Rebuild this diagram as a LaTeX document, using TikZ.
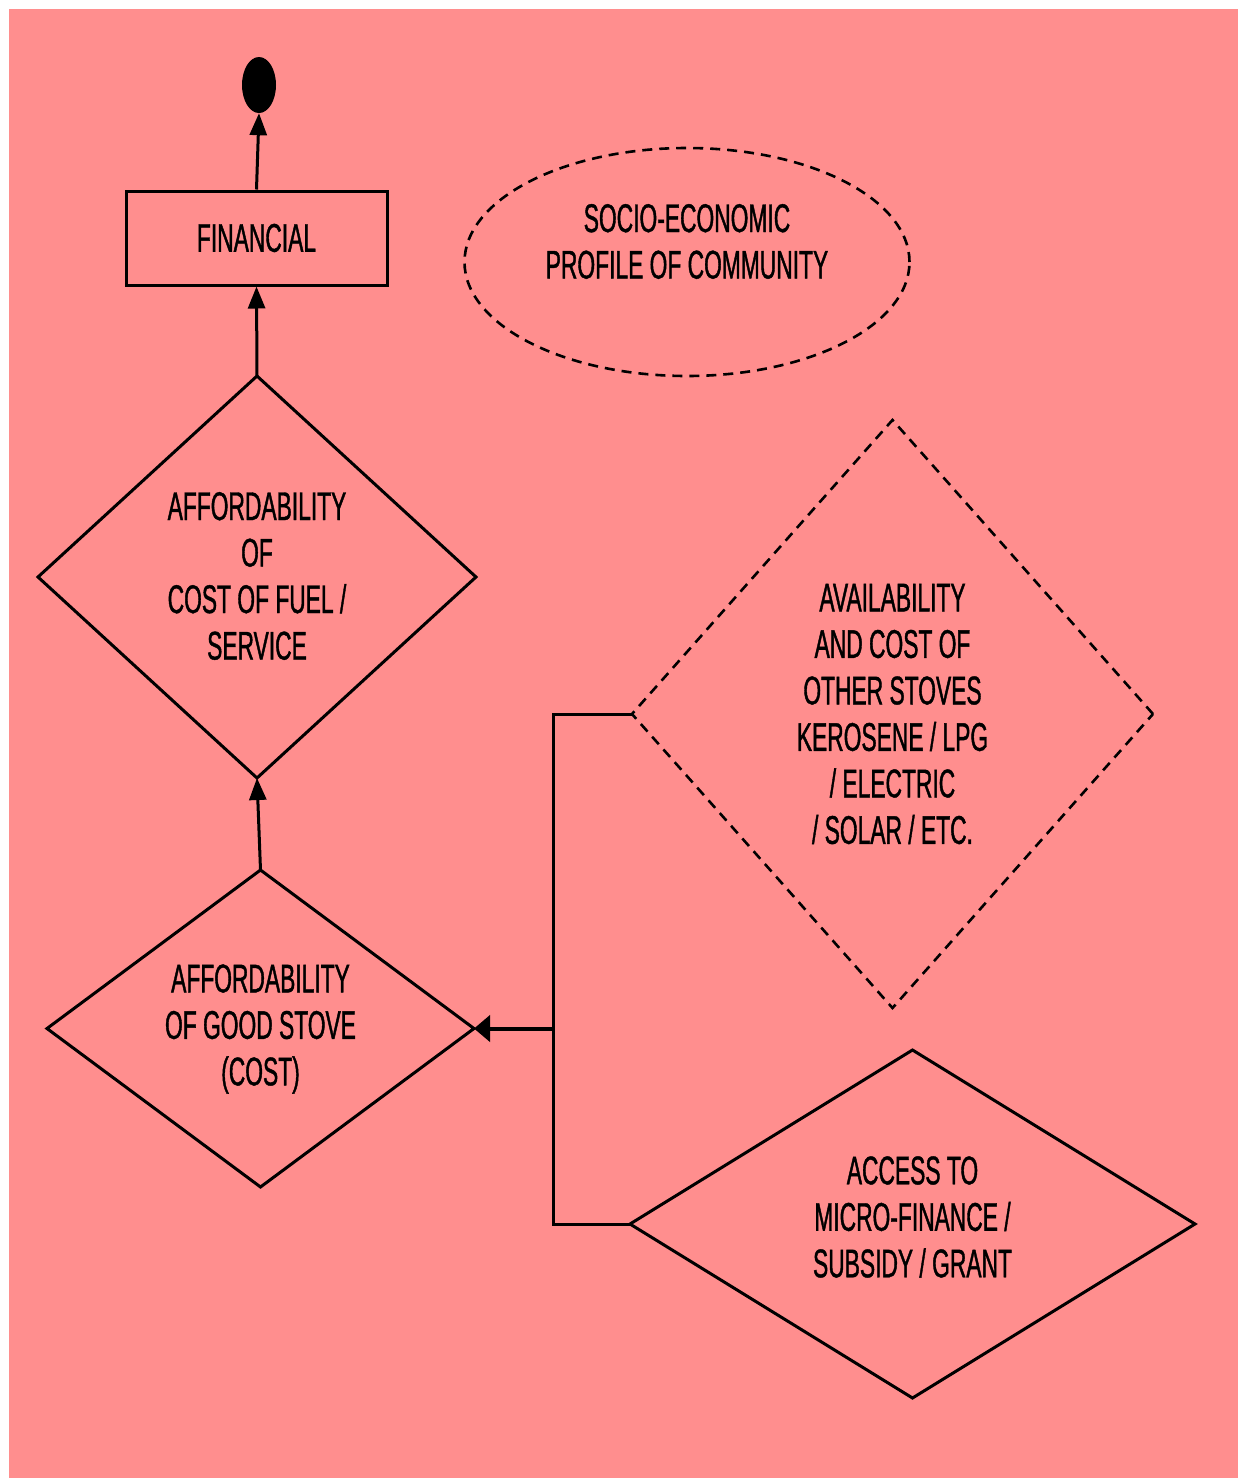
\documentclass[tikz,border=0pt]{standalone}
\usepackage{fontspec}
\usetikzlibrary{shapes.geometric,arrows.meta}
\newfontfamily\lbl{Liberation Sans}[FakeStretch=0.57,FakeBold=1]
\definecolor{bgpink}{RGB}{255,142,142}
\tikzset{
  txt/.style={align=center,font=\lbl\fontsize{40}{46.5}\selectfont,inner sep=0pt},
  dia/.style={diamond,draw=black,line width=3pt,inner sep=0pt,outer sep=0pt},
  ddia/.style={diamond,draw=black,line width=2.6pt,dash pattern=on 10pt off 7pt,inner sep=0pt,outer sep=0pt},
  conn/.style={draw=black,line width=3pt},
  varr/.style={conn,-{Triangle[length=22pt,width=17pt]}},
  harr/.style={draw=black,line width=4pt,-{Triangle[length=16pt,width=26pt]}}
}
\begin{document}
\begin{tikzpicture}[x=1pt,y=-1pt]
\fill[white] (0,0) rectangle (1238,1478);
\fill[bgpink] (9,9) rectangle (1238,1478);
\useasboundingbox (0,0) rectangle (1238,1478);

\node[ellipse,fill=black,minimum width=34pt,minimum height=56pt,inner sep=0pt] (endpt) at (259,85) {};
\node[txt,draw=black,line width=3pt,minimum width=261pt,minimum height=94pt] (fin) at (256.5,238) {FINANCIAL};
\node[ddia,ellipse,minimum width=445pt,minimum height=228pt] (soc) at (687,262) {};
\node[txt] (soctxt) at (687,241.5) {SOCIO-ECONOMIC\\PROFILE OF COMMUNITY};

\node[dia,minimum width=438pt,minimum height=402pt] (d1) at (257,577) {};
\node[txt] (d1txt) at (257,576) {AFFORDABILITY\\OF\\COST OF FUEL /\\SERVICE};

\node[dia,minimum width=427pt,minimum height=317pt] (d2) at (260.5,1028.5) {};
\node[txt] (d2txt) at (260.5,1029) {AFFORDABILITY\\OF GOOD STOVE\\(COST)};

\node[ddia,minimum width=521pt,minimum height=588pt] (d3) at (892.5,714) {};
\node[txt] (d3txt) at (892.5,714) {AVAILABILITY\\AND COST OF\\OTHER STOVES\\KEROSENE / LPG\\/ ELECTRIC\\/ SOLAR / ETC.};

\node[dia,minimum width=565pt,minimum height=348pt] (d4) at (912.5,1224) {};
\node[txt] (d4txt) at (912.5,1217) {ACCESS TO\\MICRO-FINANCE /\\SUBSIDY / GRANT};

\draw[varr] (fin.north) -- (endpt.south);
\draw[varr] (d1.north) -- (fin.south);
\draw[varr] (d2.north) -- (d1.south);

\coordinate (j) at (553,1028.5);
\draw[conn] (d3.west) -| (j) |- (d4.west);
\draw[harr] (j) -- (d2.east);
\end{tikzpicture}
\end{document}
